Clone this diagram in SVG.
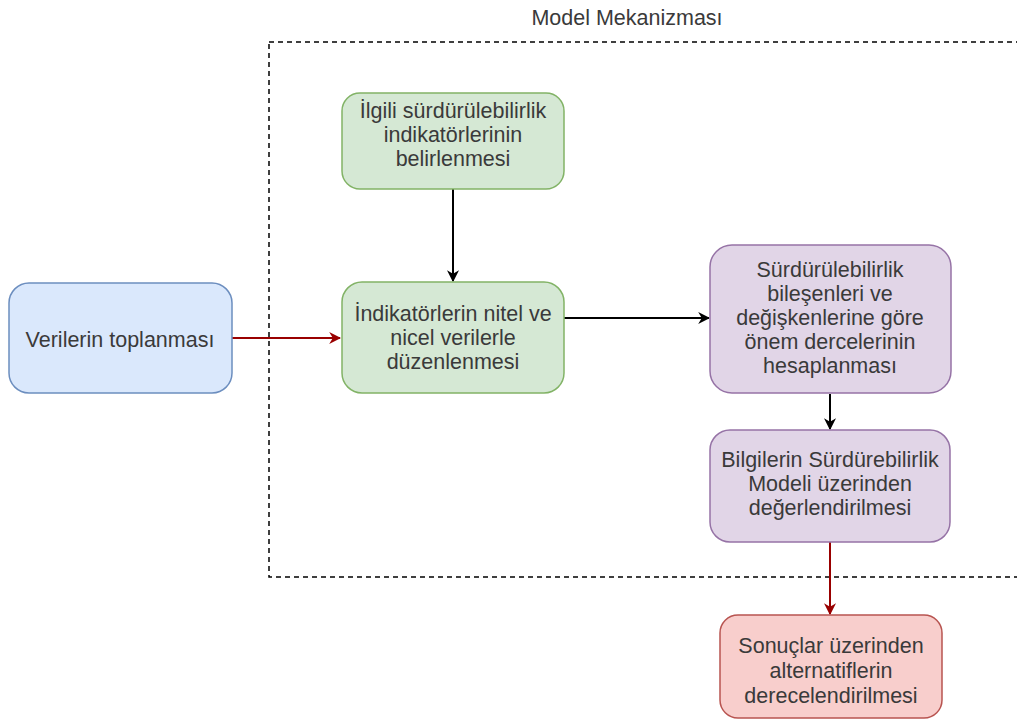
<svg xmlns="http://www.w3.org/2000/svg" width="1017" height="727" viewBox="0 0 1017 727">
  <defs>
    <style>
      .lbl { font-family: "Liberation Sans", Arial, sans-serif; font-size: 21.5px; fill: #3a3a3a; text-anchor: middle; }
      .box { stroke-width: 1.5; }
      .blue { fill: #dae8fc; stroke: #6c8ebf; }
      .green { fill: #d5e8d4; stroke: #82b366; }
      .purple { fill: #e1d5e7; stroke: #9673a6; }
      .red { fill: #f8cecc; stroke: #b85450; }
      .edge { fill: none; stroke-width: 2; }
      .edge-dark { stroke: #000000; }
      .edge-red { stroke: #990000; }
    </style>
    <marker id="arrowBlack" viewBox="0 0 10 10" refX="9" refY="5" markerWidth="12" markerHeight="12" markerUnits="userSpaceOnUse" orient="auto">
      <path d="M0,0 L10,5 L0,10 L3,5 Z" fill="#000000"/>
    </marker>
    <marker id="arrowRed" viewBox="0 0 10 10" refX="9" refY="5" markerWidth="12" markerHeight="12" markerUnits="userSpaceOnUse" orient="auto">
      <path d="M0,0 L10,5 L0,10 L3,5 Z" fill="#990000"/>
    </marker>
  </defs>

  <rect width="1017" height="727" fill="#ffffff"/>

  <!-- model mechanism frame -->
  <g id="frame">
    <rect x="269" y="42" width="760" height="535" fill="none" stroke="#000000" stroke-width="1.5" stroke-dasharray="5 4"/>
    <text class="lbl" x="627" y="25">Model Mekanizması</text>
  </g>

  <g id="connectors">
    <line class="edge edge-red" x1="232" y1="338" x2="340" y2="338" marker-end="url(#arrowRed)"/>
    <line class="edge edge-dark" x1="453" y1="189" x2="453" y2="281" marker-end="url(#arrowBlack)"/>
    <line class="edge edge-dark" x1="564" y1="318" x2="709" y2="318" marker-end="url(#arrowBlack)"/>
    <line class="edge edge-dark" x1="830" y1="394" x2="830" y2="429" marker-end="url(#arrowBlack)"/>
    <line class="edge edge-red" x1="830" y1="542" x2="830" y2="614" marker-end="url(#arrowRed)"/>
  </g>

  <g id="node-collect">
    <rect class="box blue" x="9" y="283" width="223" height="110" rx="20"/>
    <text class="lbl" x="120" y="347">Verilerin toplanması</text>
  </g>

  <g id="node-indicators">
    <rect class="box green" x="342" y="93" width="222" height="96" rx="18"/>
    <text class="lbl" x="453" y="118">İlgili sürdürülebilirlik</text>
    <text class="lbl" x="453" y="142">indikatörlerinin</text>
    <text class="lbl" x="453" y="166">belirlenmesi</text>
  </g>

  <g id="node-arrange">
    <rect class="box green" x="342" y="282" width="222" height="111" rx="20"/>
    <text class="lbl" x="453" y="321">İndikatörlerin nitel ve</text>
    <text class="lbl" x="453" y="345">nicel verilerle</text>
    <text class="lbl" x="453" y="369">düzenlenmesi</text>
  </g>

  <g id="node-weights">
    <rect class="box purple" x="710" y="245" width="241" height="148" rx="22"/>
    <text class="lbl" x="830" y="277">Sürdürülebilirlik</text>
    <text class="lbl" x="830" y="301">bileşenleri ve</text>
    <text class="lbl" x="830" y="325">değişkenlerine göre</text>
    <text class="lbl" x="830" y="349">önem dercelerinin</text>
    <text class="lbl" x="830" y="373">hesaplanması</text>
  </g>

  <g id="node-evaluate">
    <rect class="box purple" x="710" y="430" width="240" height="112" rx="20"/>
    <text class="lbl" x="830" y="467">Bilgilerin Sürdürebilirlik</text>
    <text class="lbl" x="830" y="491">Modeli üzerinden</text>
    <text class="lbl" x="830" y="515">değerlendirilmesi</text>
  </g>

  <g id="node-rank">
    <rect class="box red" x="720" y="615" width="222" height="103" rx="18"/>
    <text class="lbl" x="831" y="653">Sonuçlar üzerinden</text>
    <text class="lbl" x="831" y="678">alternatiflerin</text>
    <text class="lbl" x="831" y="703">derecelendirilmesi</text>
  </g>
</svg>
